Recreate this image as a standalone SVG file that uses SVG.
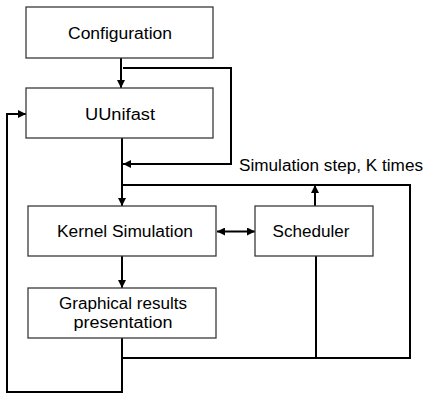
<svg xmlns="http://www.w3.org/2000/svg" width="429" height="401" viewBox="0 0 429 401">
<style>
.box{fill:#fff;stroke:#3a3a3a;stroke-width:1.3}
.lbl{font-family:"Liberation Sans",Arial,sans-serif;font-size:16px;fill:#000;text-anchor:middle}
.ln{fill:none;stroke:#000;stroke-width:2}
</style>
<defs>
<marker id="ah" viewBox="0 0 10 10" refX="10" refY="5" markerWidth="4" markerHeight="4" orient="auto-start-reverse" markerUnits="strokeWidth">
<path d="M0,0 L10,5 L0,10 z" fill="#000"/>
</marker>
</defs>
<rect width="429" height="401" fill="#fff"/>
<g id="connectors">
<line class="ln" x1="121" y1="58" x2="121" y2="88" marker-end="url(#ah)"/>
<polyline class="ln" points="123,68 231,68 231,164 123,164" marker-end="url(#ah)"/>
<line class="ln" x1="122" y1="138" x2="122" y2="206" marker-end="url(#ah)"/>
<polyline class="ln" points="122,185 410,185 410,358 122,358"/>
<line class="ln" x1="316" y1="256" x2="316" y2="358"/>
<line class="ln" x1="315" y1="206" x2="315" y2="185" marker-end="url(#ah)"/>
<line class="ln" x1="122" y1="256" x2="122" y2="288" marker-end="url(#ah)"/>
<line class="ln" x1="217" y1="231.5" x2="255" y2="231.5" marker-start="url(#ah)" marker-end="url(#ah)"/>
<polyline class="ln" points="122,338 122,392 7,392 7,114 26,114" marker-end="url(#ah)"/>
</g>
<g id="configuration">
<rect class="box" x="26" y="7" width="187" height="51"/>
<text class="lbl" x="120" y="39" textLength="104" lengthAdjust="spacingAndGlyphs">Configuration</text>
</g>
<g id="uunifast">
<rect class="box" x="26" y="88" width="187" height="50"/>
<text class="lbl" x="120" y="120" textLength="70" lengthAdjust="spacingAndGlyphs">UUnifast</text>
</g>
<g id="kernel">
<rect class="box" x="28" y="206" width="188" height="50"/>
<text class="lbl" x="125" y="237" textLength="136" lengthAdjust="spacingAndGlyphs">Kernel Simulation</text>
</g>
<g id="graphical">
<rect class="box" x="28" y="288" width="188" height="50"/>
<text class="lbl" x="123" y="309" textLength="128" lengthAdjust="spacingAndGlyphs">Graphical results</text>
<text class="lbl" x="123" y="328" textLength="99" lengthAdjust="spacingAndGlyphs">presentation</text>
</g>
<g id="scheduler">
<rect class="box" x="255" y="206" width="118" height="50"/>
<text class="lbl" x="311" y="237" textLength="77" lengthAdjust="spacingAndGlyphs">Scheduler</text>
</g>
<g id="note">
<text x="239" y="171" font-family="Liberation Sans,Arial,sans-serif" font-size="16" textLength="184" lengthAdjust="spacingAndGlyphs">Simulation step, K times</text>
</g>
</svg>
